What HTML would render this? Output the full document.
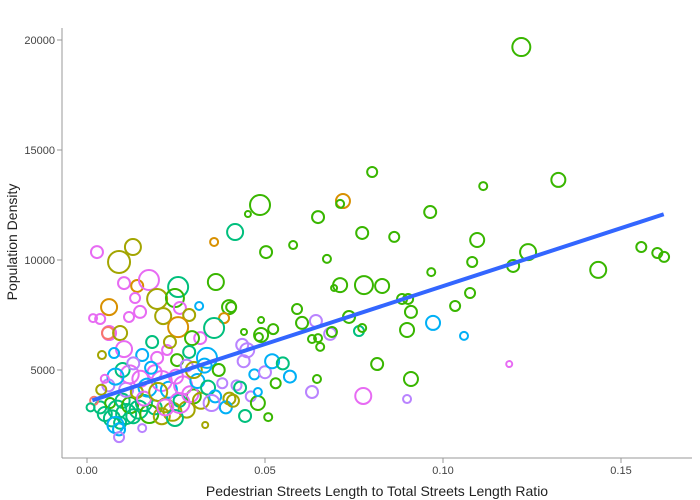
<!DOCTYPE html>
<html><head><meta charset="utf-8"><style>
html,body{margin:0;padding:0;background:#fff;}
svg{display:block;font-family:"Liberation Sans",sans-serif;}
</style></head><body>
<svg id="chart" width="700" height="500">
<g id="axes"></g>
<g id="points"></g>
<g id="fit"></g>
<text x="377" y="496" text-anchor="middle" font-size="14" fill="#222">Pedestrian Streets Length to Total Streets Length Ratio</text>
<text transform="translate(17,242) rotate(-90)" text-anchor="middle" font-size="14" fill="#222">Population Density</text>
</svg>
<script>
const xVals=[0.1220,0.1324,0.1113,0.0801,0.0486,0.0719,0.0711,0.0452,0.0649,0.0964,0.0773,0.0863,0.0416,0.0503,0.0579,0.0674,0.1096,0.1082,0.0967,0.0711,0.0694,0.0778,0.0829,0.1076,0.1034,0.0885,0.0902,0.0910,0.0899,0.0972,0.1059,0.0736,0.0764,0.0773,0.0590,0.0604,0.0643,0.0683,0.0688,0.0632,0.0649,0.0655,0.0489,0.0523,0.0489,0.0815,0.0910,0.0646,0.0632,0.0776,0.0899,0.0405,0.1239,0.1197,0.1557,0.1602,0.1621,0.1436,0.1186,
0.0028,0.0090,0.0129,0.0357,0.0104,0.0141,0.0174,0.0256,0.0362,0.0135,0.0197,0.0247,0.0062,0.0149,0.0118,0.0017,0.0037,0.0214,0.0261,0.0287,0.0315,0.0399,0.0385,0.0256,0.0318,0.0357,0.0483,0.0441,0.0062,0.0059,0.0093,0.0295,0.0287,0.0337,0.0436,0.0104,0.0076,0.0042,0.0225,0.0155,0.0197,0.0253,0.0183,0.0233,
0.0037,0.0050,0.0065,0.0070,0.0085,0.0093,0.0100,0.0110,0.0121,0.0130,0.0145,0.0160,0.0175,0.0190,0.0210,0.0220,0.0240,0.0260,0.0280,0.0300,0.0080,0.0090,0.0020,0.0010,0.0155,0.0090,0.0247,0.0332,0.0444,0.0509,
0.0060,0.0110,0.0120,0.0150,0.0170,0.0190,0.0210,0.0230,0.0250,0.0270,0.0290,0.0310,0.0320,0.0340,0.0360,0.0380,0.0400,0.0420,0.0140,0.0160,0.0180,0.0200,0.0220,0.0260,0.0100,0.0130,0.0080,0.0040,0.0050,0.0280,0.0300,0.0330,0.0350,0.0390,0.0410,0.0460,0.0480,0.0440,0.0470,0.0500,0.0520,0.0550,0.0570,0.0530,0.0450,0.0370,0.0430,0.0480];
const yVals=[19680,13640,13360,14000,12500,12680,12550,12090,11950,12180,11230,11050,11270,10360,10680,10050,10910,9910,9450,8860,8730,8860,8820,8500,7910,8230,8230,7640,6820,7140,6550,7410,6770,6910,7770,7140,7230,6640,6730,6410,6450,6050,7270,6860,6590,5270,4590,4590,4000,3820,3680,7860,10360,9730,10590,10320,10140,9550,5270,
10360,9910,10590,10820,8950,8820,9090,8770,9000,8270,8230,8270,7860,7640,7410,7360,7320,7450,7820,7500,7910,7860,7360,6950,6450,6910,6500,6730,6680,6680,6680,6450,5820,5550,6140,5950,5770,5680,5910,5680,5550,5450,6270,6270,
3300,3000,3500,2800,3200,2600,3600,3000,3400,2900,3200,3500,3000,3300,2900,3400,3100,3600,3200,3800,2500,2300,3600,3300,2360,1950,2820,2500,2910,2860,
4300,4100,4800,4600,4200,4900,4500,4100,4700,4300,3900,4500,3600,4200,3800,4400,3700,4300,4000,3700,5100,4000,3300,3500,5000,5300,4700,4100,4600,5200,5000,5200,3500,3300,3600,3800,3500,5400,4800,4900,5400,5300,4700,4400,5900,5000,4200,4000];
const sizeVals=[9,7,4,5,10,7,4,3,6,6,6,5,8,6,4,4,7,5,4,7,3,9,7,5,5,5,5,6,7,7,4,6,5,4,5,6,6,6,5,4,4,4,3,5,7,6,7,4,6,8,4,5,8,6,5,5,5,8,3,
6,11,8,4,6,6,10,10,8,5,10,9,8,6,5,4,5,8,6,6,4,7,5,10,6,10,4,3,7,6,7,7,6,10,6,8,5,4,5,6,6,6,6,6,
6,7,5,8,9,6,7,10,8,7,9,8,9,7,8,7,9,6,8,7,8,6,4,4,4,5,8,3,6,4,
6,7,9,8,9,7,10,8,7,9,8,7,8,7,6,5,6,5,6,7,6,9,8,10,7,6,8,5,4,6,8,7,8,6,6,5,7,6,5,6,7,6,6,5,7,6,6,4];
const groupVals=[3,3,3,3,3,1,3,3,3,3,3,3,4,3,3,3,3,3,3,3,3,3,3,3,3,3,3,3,3,6,6,3,4,3,3,3,8,8,3,3,3,3,3,3,3,3,3,3,8,9,8,3,3,3,3,3,3,3,9,
9,2,2,1,9,1,9,4,3,9,2,3,1,9,9,9,9,2,9,2,6,3,1,1,9,4,3,3,9,0,2,3,4,6,8,9,6,2,9,6,9,3,4,2,
4,4,3,4,4,4,4,4,3,4,4,4,3,4,2,2,2,4,2,3,6,6,0,4,8,8,4,2,4,3,
8,8,9,9,6,9,9,6,9,9,9,6,2,4,6,8,2,8,2,9,6,2,9,9,4,8,6,2,9,8,2,6,8,6,2,8,3,8,6,8,6,4,6,3,8,3,4,6];
const fitX=[0.0015,0.162];
const fitY=[3620,12080];
const xTicks=[0,0.05,0.10,0.15];
const xTickLabels=["0.00","0.05","0.10","0.15"];
const yTicks=[5000,10000,15000,20000];
const yTickLabels=["5000","10000","15000","20000"];
const palette=["#F8766D","#D89000","#A3A500","#39B600","#00BF7D","#00BFC4","#00B0F6","#9590FF","#B983FF","#E76BF3"];
const sx=v=>87+v*3560;
const sy=v=>370-(v-5000)*0.022;
const NS="http://www.w3.org/2000/svg";
const axes=document.getElementById('axes');
function mk(tag,attrs,parent){const e=document.createElementNS(NS,tag);for(const k in attrs)e.setAttribute(k,attrs[k]);parent.appendChild(e);return e;}
const yl=mk('line',{x1:62,y1:28,x2:62,y2:458,stroke:'#999','stroke-width':1},axes);


const xl=mk('line',{x1:62,y1:458,x2:692,y2:458,stroke:'#999','stroke-width':1},axes);


yTicks.forEach((t,i)=>{
  const tk=mk('line',{x1:57,x2:62,y1:sy(t),y2:sy(t),stroke:'#999'},axes);
  
  
  const tx=mk('text',{x:55,y:sy(t)+4,'text-anchor':'end','font-size':11,fill:'#444'},axes);
  tx.textContent=yTickLabels[i];
  
  
});
xTicks.forEach((t,i)=>{
  const tk=mk('line',{x1:sx(t),x2:sx(t),y1:458,y2:463,stroke:'#999'},axes);
  
  
  const tx=mk('text',{x:sx(t),y:474,'text-anchor':'middle','font-size':11,fill:'#444'},axes);
  tx.textContent=xTickLabels[i];
  
  
});
const pts=document.getElementById('points');
xVals.forEach((x,i)=>{
  const c=mk('circle',{cx:sx(x),cy:sy(yVals[i]),r:sizeVals[i],fill:'none',stroke:palette[groupVals[i]],'stroke-width':2},pts);
  
  
});
const fit=document.getElementById('fit');
const ln=mk('line',{x1:sx(fitX[0]),y1:sy(fitY[0]),x2:sx(fitX[1]),y2:sy(fitY[1]),stroke:'#3366FF','stroke-width':4},fit);


</script>
</body></html>
